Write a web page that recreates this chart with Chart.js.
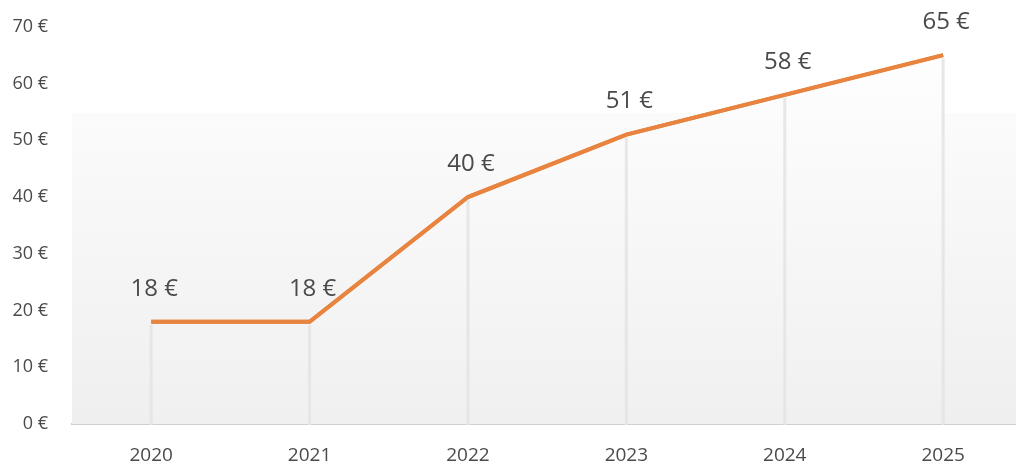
<!DOCTYPE html>
<html>
<head>
<meta charset="utf-8">
<script src="https://cdn.jsdelivr.net/npm/chart.js@4/dist/chart.umd.min.js"></script>
<style>
    html, body { margin: 0; padding: 0; background: #ffffff; }
    #wrap { width: 1016px; height: 464px; position: relative; }
</style>
</head>
<body>
<div id="wrap"><canvas id="priceChart"></canvas></div>
<script>
// Price per year
const years = [2020, 2021, 2022, 2023, 2024, 2025];
const prices = [18, 18, 40, 51, 58, 65];
const yTicks = [0, 10, 20, 30, 40, 50, 60, 70];

const FONT = '"Open Sans", "Noto Sans", sans-serif';
const TEXT = '#4a4a4a';

// Soft grey band behind the lower part of the plot
const backdrop = {
    id: 'backdrop',
    beforeDatasetsDraw(chart) {
        const { ctx, chartArea } = chart;
        const top = 113;
        const g = ctx.createLinearGradient(0, top, 0, chartArea.bottom);
        g.addColorStop(0, '#fbfbfb');
        g.addColorStop(1, '#efefef');
        ctx.save();
        ctx.fillStyle = g;
        ctx.fillRect(chartArea.left, top, chart.width - chartArea.left, chartArea.bottom - top);
        ctx.restore();
    }
};

// Vertical drop lines from each point down to the axis
const dropLines = {
    id: 'dropLines',
    afterDatasetsDraw(chart) {
        const { ctx, scales } = chart;
        ctx.save();
        years.forEach((yr, i) => {
            const x = scales.x.getPixelForValue(yr);
            const y = scales.y.getPixelForValue(prices[i]);
            ctx.strokeStyle = 'rgba(228,228,228,0.9)';
            ctx.lineWidth = 3;
            ctx.beginPath();
            ctx.moveTo(x, y + 3);
            ctx.lineTo(x, scales.y.getPixelForValue(0) + 1);
            ctx.stroke();
        });
        // redraw the line on top of the drop lines
        const meta = chart.getDatasetMeta(0);
        meta.dataset.draw(ctx, chart.chartArea);
        ctx.restore();
    }
};

// Value labels above the points
const valueLabels = {
    id: 'valueLabels',
    afterDraw(chart) {
        const { ctx, scales } = chart;
        ctx.save();
        ctx.font = '24px ' + FONT;
        ctx.fillStyle = TEXT;
        ctx.textAlign = 'center';
        ctx.textBaseline = 'middle';
        years.forEach((yr, i) => {
            const x = scales.x.getPixelForValue(yr) + 3;
            const y = scales.y.getPixelForValue(prices[i]) - 33;
            ctx.fillText(prices[i] + ' €', x, y);
        });
        ctx.restore();
    }
};

const ctx = document.getElementById('priceChart').getContext('2d');
const priceChart = new Chart(ctx, {
    type: 'line',
    data: {
        datasets: [{
            data: years.map((yr, i) => ({ x: yr, y: prices[i] })),
            borderColor: '#e8843f',
            borderWidth: 4,
            pointRadius: 0,
            tension: 0,
            fill: 'origin',
            backgroundColor: function(context) {
                const area = context.chart.chartArea;
                if (!area) return '#f3f3f3';
                const g = context.chart.ctx.createLinearGradient(0, area.top, 0, area.bottom);
                g.addColorStop(0, '#ffffff');
                g.addColorStop(1, '#f0f0f0');
                return g;
            }
        }]
    },
    options: {
        responsive: true,
        maintainAspectRatio: false,
        animation: false,
        layout: {
            padding: { top: 24, right: 0, left: 0, bottom: 0 }
        },
        plugins: {
            legend: { display: false },
            tooltip: { enabled: false }
        },
        scales: {
            x: {
                type: 'linear',
                min: 2019.5,
                max: 2025.46,
                afterBuildTicks(axis) {
                    axis.ticks = years.map(v => ({ value: v }));
                },
                afterFit(axis) {
                    axis.height = 40;
                },
                grid: { display: false },
                border: { display: true, color: '#d0d0d0', width: 2 },
                ticks: {
                    padding: 12,
                    color: TEXT,
                    font: { family: FONT, size: 19 },
                    callback: v => String(v)
                }
            },
            y: {
                min: 0,
                max: 70,
                afterBuildTicks(axis) {
                    axis.ticks = yTicks.map(v => ({ value: v }));
                },
                afterFit(axis) {
                    axis.width = 72;
                },
                grid: { display: false },
                border: { display: false },
                ticks: {
                    padding: 16,
                    color: TEXT,
                    font: { family: FONT, size: 18 },
                    callback: v => v + ' €'
                }
            }
        }
    },
    plugins: [backdrop, dropLines, valueLabels]
});
</script>
</body>
</html>
